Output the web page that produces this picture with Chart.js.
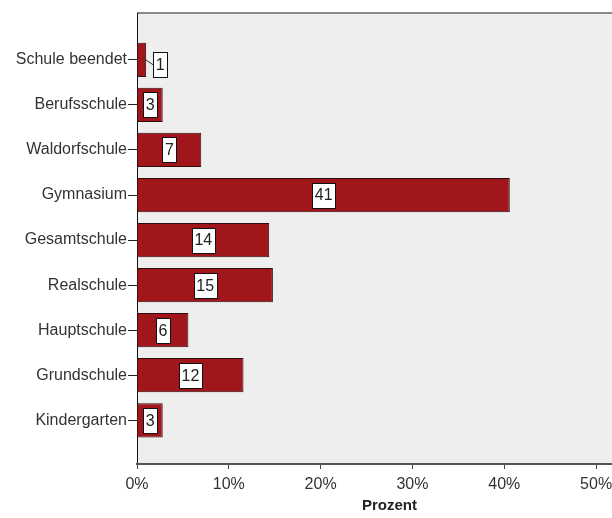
<!DOCTYPE html>
<html>
<head>
<meta charset="utf-8">
<script src="https://cdn.jsdelivr.net/npm/chart.js@4/dist/chart.umd.min.js"></script>
<style>
  html, body { margin: 0; padding: 0; background: #fff; overflow: hidden; }
  #wrap { width: 612px; height: 518px; overflow: hidden; }
</style>
</head>
<body>
<div id="wrap"><canvas id="chart" width="642" height="518"></canvas></div>
<script>
// Schulart der Befragten, Anteil in Prozent
const categories = ['Schule beendet', 'Berufsschule', 'Waldorfschule', 'Gymnasium', 'Gesamtschule',
                    'Realschule', 'Hauptschule', 'Grundschule', 'Kindergarten'];
const percentValues = [1.0, 2.8, 7.0, 40.6, 14.4, 14.8, 5.6, 11.6, 2.8];
const valueLabels = ['1', '3', '7', '41', '14', '15', '6', '12', '3'];
const xTicks = [0, 10, 20, 30, 40, 50];

Chart.defaults.font.family = '"Liberation Sans", Arial, sans-serif';
Chart.defaults.color = '#333';

// Hintergrund der Plotfläche + obere Linie
const plotBackground = {
    id: 'plotBackground',
    beforeDraw(chart) {
        const { ctx, chartArea: a } = chart;
        ctx.save();
        ctx.fillStyle = '#eeeeee';
        ctx.fillRect(a.left, a.top, a.right - a.left, a.bottom - a.top);
        ctx.strokeStyle = '#888';
        ctx.lineWidth = 2;
        ctx.beginPath();
        ctx.moveTo(a.left, a.top);
        ctx.lineTo(a.right, a.top);
        ctx.stroke();
        ctx.restore();
    }
};

// Wertbeschriftungen in weißen Kästchen
const boxLabels = {
    id: 'boxLabels',
    afterDatasetsDraw(chart) {
        const ctx = chart.ctx;
        const meta = chart.getDatasetMeta(0);
        ctx.save();
        ctx.font = '16px "Liberation Sans", Arial, sans-serif';
        ctx.textAlign = 'center';
        ctx.textBaseline = 'middle';
        meta.data.forEach((bar, i) => {
            const text = valueLabels[i];
            const w = ctx.measureText(text).width + 5;
            const h = 25;
            const barLen = bar.x - bar.base;
            let cx = bar.base + barLen / 2;
            let cy = bar.y;
            if (w + 2 > barLen) {
                // zu kurz: Kästchen daneben mit Hinweislinie
                const bx = bar.x + 7;
                cy = bar.y + 5;
                ctx.strokeStyle = '#333';
                ctx.lineWidth = 1;
                ctx.beginPath();
                ctx.moveTo(bar.base + barLen / 2 + 1, bar.y - 2);
                ctx.lineTo(bx, cy);
                ctx.stroke();
                cx = bx + w / 2;
            }
            ctx.fillStyle = '#fff';
            ctx.fillRect(Math.round(cx - w / 2) + 0.5, Math.round(cy - h / 2) + 0.5, Math.round(w), h);
            ctx.strokeStyle = '#111';
            ctx.lineWidth = 1;
            ctx.strokeRect(Math.round(cx - w / 2) + 0.5, Math.round(cy - h / 2) + 0.5, Math.round(w), h);
            ctx.fillStyle = '#222';
            ctx.fillText(text, cx, cy + 1);
        });
        ctx.restore();
    }
};

new Chart(document.getElementById('chart'), {
    type: 'bar',
    data: {
        datasets: [{
            data: percentValues.map((v, i) => ({ x: v, y: i })),
            backgroundColor: '#a0161b',
            borderColor: '#2e0c0c',
            borderWidth: 1,
            borderSkipped: 'start',
            barPercentage: 0.76,
            categoryPercentage: 1
        }]
    },
    options: {
        indexAxis: 'y',
        responsive: false,
        animation: false,
        devicePixelRatio: 1,
        layout: { padding: { top: 13, left: 0, right: 0, bottom: 1 } },
        plugins: {
            legend: { display: false },
            tooltip: { enabled: false }
        },
        scales: {
            y: {
                type: 'linear',
                reverse: true,
                offset: false,
                min: -1.04,
                max: categories.length - 0.03,
                afterBuildTicks: (scale) => {
                    scale.ticks = categories.map((c, i) => ({ value: i }));
                },
                afterFit: (scale) => { scale.width = 137; },
                ticks: {
                    callback: (v) => categories[v],
                    font: { size: 16 },
                    color: '#333',
                    padding: 1
                },
                grid: {
                    offset: false,
                    drawOnChartArea: false,
                    drawTicks: true,
                    tickLength: 9,
                    color: '#222'
                },
                border: { color: '#111', width: 1 }
            },
            x: {
                type: 'linear',
                min: 0,
                max: 55,
                afterBuildTicks: (scale) => {
                    scale.ticks = xTicks.map(v => ({ value: v }));
                },
                afterFit: (scale) => { scale.height = 53; },
                ticks: {
                    callback: (v) => v + '%',
                    font: { size: 16 },
                    color: '#333',
                    padding: 6,
                    maxRotation: 0
                },
                grid: {
                    drawOnChartArea: false,
                    drawTicks: true,
                    tickLength: 5,
                    color: '#444'
                },
                border: { color: '#555', width: 2 },
                title: {
                    display: true,
                    text: 'Prozent',
                    font: { size: 15, weight: 'bold' },
                    color: '#222',
                    padding: { top: 2, bottom: 2 }
                }
            }
        }
    },
    plugins: [plotBackground, boxLabels]
});
</script>
</body>
</html>
